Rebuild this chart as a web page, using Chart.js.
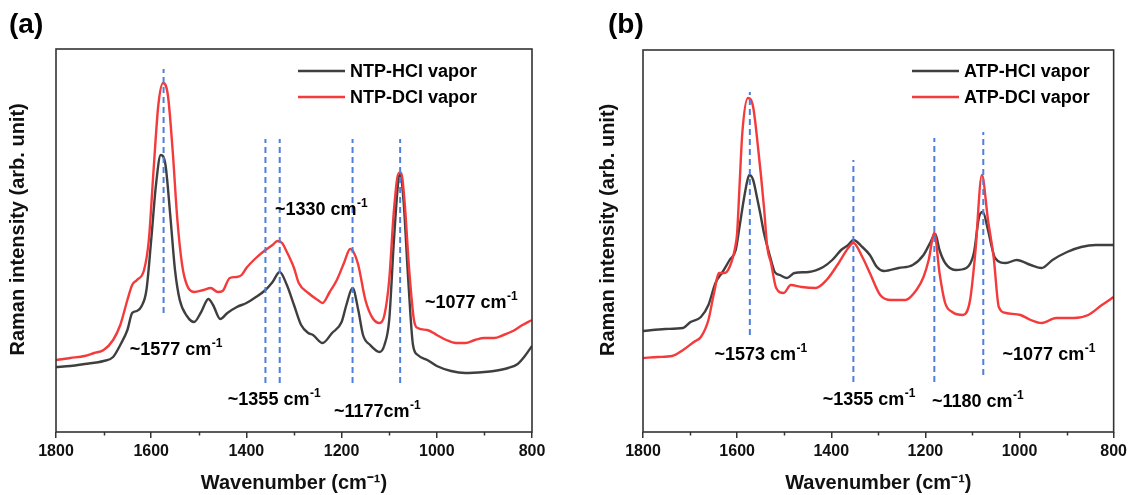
<!DOCTYPE html>
<html><head><meta charset="utf-8">
<script src="https://cdn.jsdelivr.net/npm/chart.js@4.4.1/dist/chart.umd.min.js"></script>
<style>
html,body{margin:0;padding:0;background:#fff;}
#wrap{position:relative;width:1131px;height:495px;overflow:hidden;background:#fff;}
.pane{position:absolute;top:0;height:495px;}
canvas{display:block;}
</style></head><body>
<div id="wrap">
<div class="pane" style="left:0;width:565px"><canvas id="cA" width="565" height="495"></canvas></div>
<div class="pane" style="left:565px;width:566px"><canvas id="cB" width="566" height="495"></canvas></div>
</div>
<script>
// ---------- Panel (a): NTP ----------
const wnA_HCl = [1800,1770,1740,1700,1680,1665,1650,1640,1630,1620,1610,1600,1590,1580,1570,1560,1550,1540,1525,1510,1495,1480,1470,1455,1440,1420,1400,1380,1360,1345,1330,1315,1300,1285,1270,1260,1240,1220,1200,1190,1177,1165,1155,1140,1120,1110,1100,1090,1080,1077,1070,1060,1050,1040,1020,1000,970,940,900,880,850,830,815,800];
const intA_HCl = [65,66,68,71,75,87,102,119,121,126,142,192,247,277,267,217,162,132,116,110,120,133,127,113,119,125,129,135,142,150,160,147,127,107,99,97,89,99,110,127,144,122,97,87,80,87,112,192,254,257,232,152,87,77,72,66,61,59,60,61,64,68,76,86];
const wnA_DCl = [1800,1770,1740,1720,1700,1680,1665,1650,1640,1630,1615,1605,1595,1585,1575,1565,1555,1545,1535,1525,1510,1490,1475,1460,1450,1435,1420,1410,1400,1380,1360,1345,1335,1325,1315,1300,1290,1270,1250,1240,1225,1210,1195,1182,1175,1165,1150,1135,1120,1110,1100,1090,1080,1075,1068,1058,1048,1040,1020,1000,980,960,940,920,900,880,860,840,820,800];
const intA_DCl = [72,74,76,79,82,92,107,132,147,152,162,192,262,327,349,337,282,212,167,147,140,142,144,140,141,154,155,157,164,174,182,187,191,189,180,164,149,139,132,129,140,152,169,183,180,167,132,114,109,117,152,222,259,259,232,162,112,104,102,97,92,89,89,92,94,94,97,101,107,112];
const peaksA = [1574,1360,1330,1177,1077];
const peaksA_lo = [119,49,49,49,49];
const peaksA_hi = [363,293,293,293,293];
const notesA_text = ['~1577 cm','~1330 cm','~1355 cm','~1177cm','~1077 cm'];
const notesA_w = [1645,1340,1439,1216,1025];
const notesA_v = [82,222,32,20,129];
const labelsA = ['NTP-HCl vapor','NTP-DCl vapor'];

// ---------- Panel (b): ATP ----------
const wnB_HCl = [1800,1753,1715,1699,1677,1661,1646,1631,1616,1603,1595,1586,1578,1574,1566,1558,1551,1543,1535,1528,1520,1509,1494,1478,1448,1417,1398,1379,1364,1353,1334,1318,1303,1288,1257,1227,1204,1189,1179,1170,1158,1136,1113,1097,1086,1078,1067,1059,1052,1029,1006,976,953,930,899,869,838,800];
const intB_HCl = [101,103,104,110,115,127,149,160,172,182,205,232,252,257,252,235,219,199,184,172,160,157,154,159,160,165,172,182,187,192,185,177,165,161,164,167,177,190,198,182,169,162,164,179,215,220,202,185,174,169,172,167,164,172,180,185,187,187];
const wnB_DCl = [1800,1768,1738,1715,1692,1677,1661,1650,1638,1627,1616,1604,1600,1595,1589,1577,1566,1555,1543,1536,1528,1517,1501,1486,1463,1433,1410,1387,1364,1353,1334,1318,1296,1273,1242,1219,1204,1193,1181,1170,1158,1143,1120,1105,1094,1080,1067,1055,1044,1029,998,976,953,922,884,854,825,800];
const intB_DCl = [74,75,76,82,90,95,112,137,159,159,165,185,199,245,299,334,325,282,225,185,169,144,139,147,145,144,152,167,184,189,175,159,137,132,132,142,155,172,199,159,129,120,117,132,179,257,212,175,125,119,117,112,109,114,114,117,127,135];
const peaksB = [1573,1353,1181,1077];
const peaksB_lo = [97,50,50,57];
const peaksB_hi = [340,272,294,300];
const notesB_text = ['~1573 cm','~1355 cm','~1180 cm','~1077 cm'];
const notesB_w = [1648,1418,1186,1036];
const notesB_v = [77,32,30,77];
const labelsB = ['ATP-HCl vapor','ATP-DCl vapor'];

const xTicks = [1800,1600,1400,1200,1000,800];
const xMinor = [1700,1500,1300,1100,900];

// ---------- helpers ----------
const FAM = "'Liberation Sans', Arial, Helvetica, sans-serif";
Chart.defaults.font.family = FAM;
Chart.defaults.font.weight = 'bold';
Chart.defaults.color = '#111';
const BLACK = '#3f3f3f', RED = '#f43a3a', BLUE = '#4d7fdc';

function pts(xs, ys){ return xs.map((x,i)=>({x:x, y:ys[i]})); }

const deco = {
  id: 'deco',
  afterDraw(chart, args, o) {
    const ctx = chart.ctx, a = chart.chartArea, xs = chart.scales.x, ys = chart.scales.y;
    ctx.save();
    // minor ticks
    ctx.strokeStyle = '#333'; ctx.lineWidth = 1.5;
    xMinor.forEach(v => { const px = Math.round(xs.getPixelForValue(v)) + 0.5;
      ctx.beginPath(); ctx.moveTo(px, a.bottom); ctx.lineTo(px, a.bottom + 3.5); ctx.stroke(); });
    // frame
    ctx.lineWidth = 1.6; ctx.strokeStyle = '#333';
    ctx.strokeRect(a.left, a.top, a.right - a.left, a.bottom - a.top);
    // panel label
    ctx.fillStyle = '#000'; ctx.textAlign = 'left'; ctx.textBaseline = 'middle';
    ctx.font = 'bold 28px ' + FAM;
    ctx.fillText(o.label, o.labelX, o.labelY);
    // legend
    const series = chart.data.datasets.filter(d => !d.isMark).sort((p,q)=>p.legendIndex-q.legendIndex);
    series.forEach((d, i) => {
      const lx = a.left + o.legendLeft, ly = a.top + o.legendTop + i * 26;
      ctx.strokeStyle = d.borderColor; ctx.lineWidth = 2.6;
      ctx.beginPath(); ctx.moveTo(lx, ly); ctx.lineTo(lx + 47, ly); ctx.stroke();
      ctx.fillStyle = '#000'; ctx.font = 'bold 18px ' + FAM;
      ctx.fillText(d.label, lx + 52, ly + 1);
    });
    // peak notes
    o.notes.text.forEach((t, i) => {
      const x = xs.getPixelForValue(o.notes.w[i]), y = ys.getPixelForValue(o.notes.v[i]);
      ctx.fillStyle = '#000'; ctx.font = 'bold 18px ' + FAM;
      ctx.fillText(t, x, y);
      const wd = ctx.measureText(t).width;
      ctx.font = 'bold 12px ' + FAM;
      ctx.fillText('-1', x + wd + 0.5, y - 6);
    });
    ctx.restore();
  }
};

function makeChart(id, cfg) {
  const datasets = [
    { label: cfg.labels[0], data: pts(cfg.w1, cfg.v1), borderColor: BLACK, borderWidth: 2.4, order: 2, legendIndex: 0 },
    { label: cfg.labels[1], data: pts(cfg.w2, cfg.v2), borderColor: RED, borderWidth: 2.4, order: 1, legendIndex: 1 }
  ].map(d => Object.assign(d, { pointRadius: 0, fill: false, cubicInterpolationMode: 'monotone', borderJoinStyle: 'round' }));
  cfg.peaks.forEach((p, i) => datasets.push({
    label: 'peak ' + p, isMark: true, data: [{x:p, y:cfg.lo[i]}, {x:p, y:cfg.hi[i]}],
    borderColor: BLUE, borderWidth: 2, borderDash: [6, 4], pointRadius: 0, tension: 0, order: 0, fill: false
  }));
  return new Chart(document.getElementById(id), {
    type: 'line',
    data: { datasets },
    options: {
      responsive: false, animation: false, events: [],
      layout: { autoPadding: false, padding: { left: 0, right: cfg.padRight, top: cfg.padTop, bottom: 0 } },
      plugins: {
        legend: { display: false }, tooltip: { enabled: false },
        deco: { label: cfg.panel, labelX: cfg.labelX, labelY: 25, legendLeft: cfg.legendLeft, legendTop: cfg.legendTop,
                notes: { text: cfg.notesText, w: cfg.notesW, v: cfg.notesV } }
      },
      scales: {
        x: {
          type: 'linear', reverse: true, min: 800, max: 1800,
          afterFit: s => { s.height = 63; },
          afterBuildTicks: s => { s.ticks = xTicks.map(v => ({ value: v })); },
          ticks: { font: { size: 16, weight: 'bold' }, color: '#111', padding: 4, maxRotation: 0, autoSkip: false,
                   callback: v => String(v) },
          grid: { drawOnChartArea: false, drawTicks: true, tickLength: 6, color: '#333', lineWidth: 1.5 },
          border: { display: false },
          title: { display: true, text: 'Wavenumber (cm\u207B\u00B9)', font: { size: 20, weight: 'bold' }, color: '#111', padding: { top: 0, bottom: 0 } }
        },
        y: {
          type: 'linear', min: 0, max: cfg.yMax,
          afterFit: s => { s.width = cfg.left; },
          ticks: { display: false },
          grid: { display: false },
          border: { display: false },
          title: { display: true, text: '    Raman intensity (arb. unit)', font: { size: 20, weight: 'bold' }, color: '#111', padding: { top: cfg.yTitlePad, bottom: 0 } }
        }
      }
    },
    plugins: [deco]
  });
}

makeChart('cA', {
  labels: labelsA, w1: wnA_HCl, v1: intA_HCl, w2: wnA_DCl, v2: intA_DCl,
  peaks: peaksA, lo: peaksA_lo, hi: peaksA_hi,
  notesText: notesA_text, notesW: notesA_w, notesV: notesA_v,
  panel: '(a)', labelX: 9, legendLeft: 242, legendTop: 22,
  padRight: 33, padTop: 49, left: 56, yMax: 383, yTitlePad: 6
});
makeChart('cB', {
  labels: labelsB, w1: wnB_HCl, v1: intB_HCl, w2: wnB_DCl, v2: intB_DCl,
  peaks: peaksB, lo: peaksB_lo, hi: peaksB_hi,
  notesText: notesB_text, notesW: notesB_w, notesV: notesB_v,
  panel: '(b)', labelX: 43, legendLeft: 269, legendTop: 21,
  padRight: 14, padTop: 50, left: 78, yMax: 382, yTitlePad: 31
});
</script>
</body></html>
